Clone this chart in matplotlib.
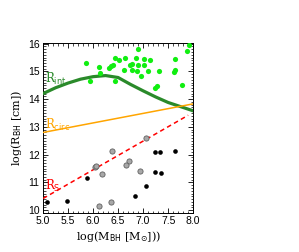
import numpy as np
import matplotlib
matplotlib.use('Agg')
import matplotlib.pyplot as plt
from matplotlib.ticker import MultipleLocator

# lime points (R_int estimates)
green_x = [5.86, 6.11, 6.14, 5.94, 6.32, 6.36, 6.40, 6.43, 6.44, 6.89, 7.91, 7.87,
           6.51, 6.64, 6.85, 7.02, 7.14, 6.74, 6.77, 6.89, 7.02, 6.61, 6.77, 6.87,
           7.09, 7.32, 7.63, 7.61, 7.64, 6.96, 7.77, 7.27, 7.24]
green_y = [15.30, 15.16, 14.94, 14.64, 15.12, 15.18, 15.23, 15.48, 14.64, 15.82, 15.95, 15.72,
           15.42, 15.48, 15.48, 15.46, 15.42, 15.24, 15.27, 15.24, 15.24, 15.04, 15.06, 15.00,
           15.02, 15.00, 15.45, 14.98, 15.04, 14.84, 14.52, 14.48, 14.40]

# black points
black_x = [5.07, 5.47, 5.87, 6.83, 7.05, 7.23, 7.36, 7.23, 7.34, 7.64]
black_y = [10.28, 10.34, 11.15, 10.50, 10.88, 11.36, 11.33, 12.11, 12.09, 12.13]

# grey points
grey_x = [6.37, 6.03, 6.05, 6.17, 6.11, 6.35, 7.06, 6.72, 6.65, 6.93]
grey_y = [12.13, 11.54, 11.59, 11.29, 10.15, 10.30, 12.61, 11.77, 11.63, 11.41]

# curves
rint_x = [5.0, 5.25, 5.5, 5.75, 6.0, 6.25, 6.5, 6.75, 7.0, 7.25, 7.5, 7.75, 8.0]
rint_y = [14.20, 14.41, 14.58, 14.72, 14.81, 14.85, 14.78, 14.53, 14.30, 14.08, 13.88, 13.73, 13.58]
line_x = [5.0, 8.0]
rcirc_y = [12.8, 13.83]
rs_x = [5.0, 7.9]
rs_y = [10.42, 13.42]

xticks = [5.0, 5.5, 6.0, 6.5, 7.0, 7.5, 8.0]
yticks = [10, 11, 12, 13, 14, 15, 16]

fig = plt.figure(figsize=(2.99, 2.52), dpi=100)
ax = fig.add_axes([0.144, 0.155, 0.502, 0.674])

ax.plot(rint_x, rint_y, color='#2a8a2a', lw=2.3, zorder=3)
ax.plot(line_x, rcirc_y, color='#ffa500', lw=1.1, zorder=3)
ax.plot(rs_x, rs_y, color='red', lw=1.1, dashes=(3, 2.2), zorder=3)

ax.scatter(green_x, green_y, s=14, color='#11ee11', lw=0, zorder=4)
ax.scatter(black_x, black_y, s=11, color='black', lw=0, zorder=4)
ax.scatter(grey_x, grey_y, s=14, facecolor='#a8a8a8', edgecolor='#606060', lw=0.6, zorder=4)

serif = 'DejaVu Serif'
ax.text(5.04, 14.6, r'R$_{\rm int}$', color='#2a8a2a', fontsize=8.5, family=serif)
ax.text(5.04, 12.92, r'R$_{\rm circ}$', color='#ffa500', fontsize=8.5, family=serif)
ax.text(5.04, 10.72, r'R$_{\rm S}$', color='red', fontsize=8.5, family=serif)

ax.set_xlim(5.0, 8.0)
ax.set_ylim(9.9, 16.02)
ax.xaxis.set_minor_locator(MultipleLocator(0.1))
ax.yaxis.set_minor_locator(MultipleLocator(0.1))
ax.tick_params(which='both', direction='in', top=True, right=True, labelsize=7.5, pad=2.5)
ax.tick_params(which='major', length=3.5, width=0.6)
ax.tick_params(which='minor', length=1.8, width=0.5)
for s in ax.spines.values():
    s.set_linewidth(0.7)
ax.set_xticks(xticks)
ax.set_xticklabels(['%.1f' % t for t in xticks], family='Liberation Sans')
ax.set_yticks(yticks)
ax.set_yticklabels([str(t) for t in yticks], family='Liberation Sans')

ax.set_xlabel(r'log(M$_{\rm BH}$ [M$_{\odot}$]))', fontsize=8, family=serif, labelpad=2)
ax.set_ylabel(r'log(R$_{\rm BH}$ [cm])', fontsize=8, family=serif, labelpad=3)

fig.savefig('out.png', dpi=100)
